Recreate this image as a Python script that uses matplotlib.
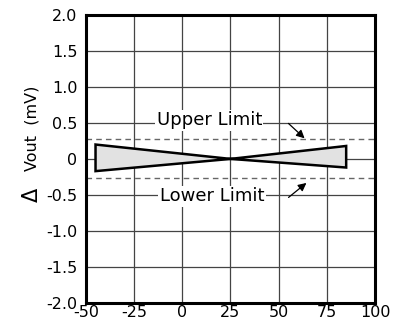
import matplotlib
matplotlib.use('Agg')
import matplotlib.pyplot as plt
from matplotlib.patches import Polygon

# 数据
temp_ticks = [-50, -25, 0, 25, 50, 75, 100]
temp_labels = ['-50', '-25', '0', '25', '50', '75', '100']
dv_ticks = [-2.0, -1.5, -1.0, -0.5, 0, 0.5, 1.0, 1.5, 2.0]
dv_labels = ['-2.0', '-1.5', '-1.0', '-0.5', '0', '0.5', '1.0', '1.5', '2.0']
# 蝴蝶结形状的边界
band_x = [-45, 25, 85, 85, 25, -45]
band_y = [0.2, 0.0, 0.18, -0.12, 0.0, -0.17]
upper_limit = 0.27
lower_limit = -0.27

plt.rcParams['font.family'] = ['DejaVu Sans']
plt.rcParams['axes.unicode_minus'] = False

fig = plt.figure(figsize=(3.94, 3.29), dpi=100)
ax = fig.add_axes([0.218, 0.08, 0.734, 0.874])

ax.set_xlim(-50, 100)
ax.set_ylim(-2.0, 2.0)
ax.set_xticks(temp_ticks)
ax.set_xticklabels(temp_labels)
ax.set_yticks(dv_ticks)
ax.set_yticklabels(dv_labels)
ax.tick_params(length=0, labelsize=11.5, colors='black')
ax.tick_params(axis='y', pad=6)
ax.tick_params(axis='x', pad=2)
ax.grid(True, color='#444444', linewidth=0.9, zorder=0)
ax.set_axisbelow(True)
for s in ax.spines.values():
    s.set_linewidth(2.2)

# 上下限
ax.axhline(upper_limit, color='#666666', linestyle=(0, (4, 3)), linewidth=1.0, zorder=1)
ax.axhline(lower_limit, color='#666666', linestyle=(0, (4, 3)), linewidth=1.0, zorder=1)

poly = Polygon(list(zip(band_x, band_y)), closed=True, facecolor='#e2e2e2',
               edgecolor='black', linewidth=1.8, zorder=3)
ax.add_patch(poly)

ax.text(14, 0.54, 'Upper Limit', fontsize=13, ha='center', va='center',
        bbox=dict(facecolor='white', edgecolor='none', pad=1), zorder=4)
ax.text(15.5, -0.52, 'Lower Limit', fontsize=13, ha='center', va='center',
        bbox=dict(facecolor='white', edgecolor='none', pad=1), zorder=4)
ax.annotate('', xy=(64.5, 0.26), xytext=(54, 0.52),
            arrowprops=dict(arrowstyle='-|>', color='black', lw=0.9, mutation_scale=12), zorder=5)
ax.annotate('', xy=(65.5, -0.31), xytext=(54, -0.56),
            arrowprops=dict(arrowstyle='-|>', color='black', lw=0.9, mutation_scale=12), zorder=5)

# y轴标签
fig.text(32 / 394, 1 - 195 / 329, 'Δ', rotation=90, fontsize=15, ha='center', va='center')
fig.text(32 / 394, 1 - 128 / 329, 'Vout  (mV)', rotation=90, fontsize=11.5, ha='center', va='center')

plt.savefig('out.png', dpi=100)
